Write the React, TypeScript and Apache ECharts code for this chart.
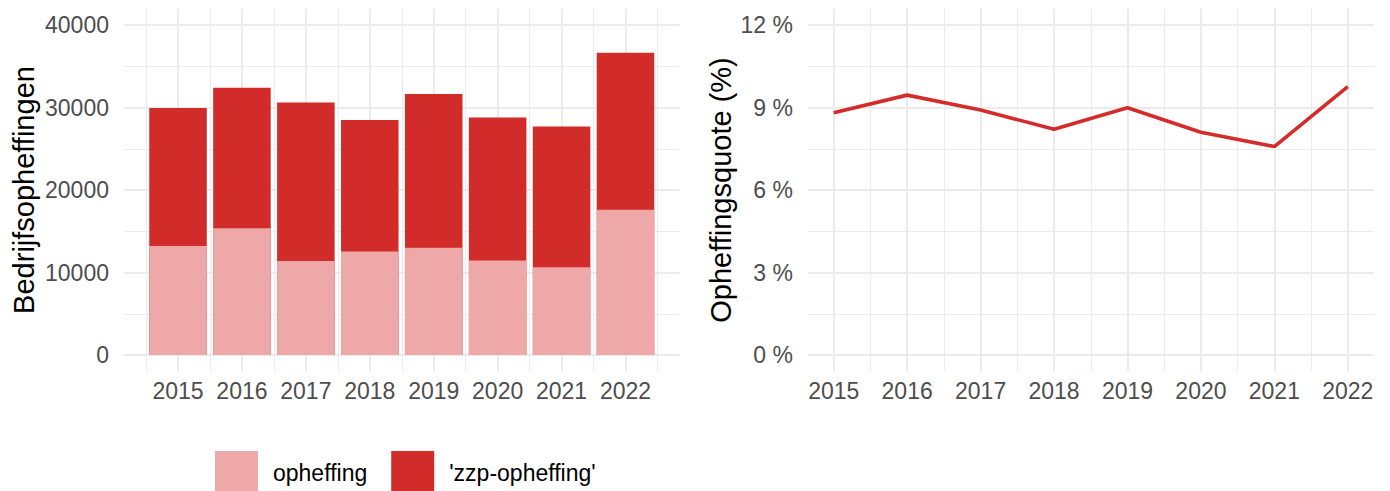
import React, { useEffect, useRef } from "react";
import * as echarts from "echarts";

const years = [2015, 2016, 2017, 2018, 2019, 2020, 2021, 2022];
const opheffing = [13200, 15350, 11400, 12550, 13000, 11450, 10650, 17600];
const zzpOpheffing = [16750, 17050, 19200, 15950, 18650, 17350, 17050, 19050];
const quote = [8.81, 9.45, 8.91, 8.21, 8.99, 8.1, 7.58, 9.76];

const leftYMajor = [0, 10000, 20000, 30000, 40000];
const leftYMinor = [5000, 15000, 25000, 35000];
const leftXMinor = [2014.5, 2015.5, 2016.5, 2017.5, 2018.5, 2019.5, 2020.5, 2021.5, 2022.5];
const rightYMajor = [0, 3, 6, 9, 12];
const rightYMinor = [1.5, 4.5, 7.5, 10.5];
const rightXMinor = [2015.5, 2016.5, 2017.5, 2018.5, 2019.5, 2020.5, 2021.5];

const LIGHT = "#EEA8A8";
const DARK = "#D12B2A";
const LINE = "#D42C2B";
const GRID = "#EBEBEB";
const FONT = "Liberation Sans, Arial, sans-serif";

export default function App() {
  const ref = useRef<HTMLDivElement>(null);
  useEffect(() => {
    if (!ref.current) return;
    const chart = echarts.init(ref.current, null, { renderer: "svg" });
    const tickText = { color: "#4D4D4D", fontSize: 23, fontFamily: FONT };
    const majorLine = { show: true, lineStyle: { color: GRID, width: 2 } };
    const minorLine = { show: true, lineStyle: { color: GRID, width: 1.1 } };
    const hiddenAxisParts = {
      axisLine: { show: false },
      axisLabel: { show: false },
    };
    const grids = [
      { left: 124, top: 8.5, width: 555.5, height: 363 },
      { left: 808, top: 8.5, width: 565.5, height: 363 },
    ];
    const xRanges = [
      [2014.155, 2022.845],
      [2014.65, 2022.35],
    ];
    const yRanges = [
      [-2000, 42000],
      [-0.6, 12.6],
    ];
    const xAxis: any[] = [];
    const yAxis: any[] = [];
    [0, 1].forEach((g) => {
      xAxis.push({
        type: "value",
        gridIndex: g,
        min: xRanges[g][0],
        max: xRanges[g][1],
        axisLine: { show: false },
        axisTick: { show: false, customValues: years },
        axisLabel: { ...tickText, customValues: years, margin: 8, formatter: (v: number) => String(v) },
        splitLine: majorLine,
      });
      xAxis.push({
        type: "value",
        gridIndex: g,
        min: xRanges[g][0],
        max: xRanges[g][1],
        ...hiddenAxisParts,
        axisTick: { show: false, customValues: g === 0 ? leftXMinor : rightXMinor },
        splitLine: minorLine,
      });
      yAxis.push({
        type: "value",
        gridIndex: g,
        min: yRanges[g][0],
        max: yRanges[g][1],
        axisLine: { show: false },
        axisTick: { show: false, customValues: g === 0 ? leftYMajor : rightYMajor },
        axisLabel: {
          ...tickText,
          customValues: g === 0 ? leftYMajor : rightYMajor,
          margin: 15,
          formatter: g === 0 ? (v: number) => String(v) : (v: number) => `${v} %`,
        },
        splitLine: majorLine,
        name: g === 0 ? "Bedrijfsopheffingen" : "Opheffingsquote (%)",
        nameLocation: "middle",
        nameRotate: 90,
        nameGap: g === 0 ? 86 : 73,
        nameTextStyle: { color: "#000000", fontSize: 29, fontFamily: FONT },
      });
      yAxis.push({
        type: "value",
        gridIndex: g,
        min: yRanges[g][0],
        max: yRanges[g][1],
        ...hiddenAxisParts,
        axisTick: { show: false, customValues: g === 0 ? leftYMinor : rightYMinor },
        splitLine: minorLine,
      });
    });

    // stacked total of both parts (the dark segment sits on top of the light one)
    const totals = years.map((_, i) => opheffing[i] + zzpOpheffing[i]);

    chart.setOption({
      animation: false,
      backgroundColor: "#FFFFFF",
      textStyle: { fontFamily: FONT },
      grid: grids,
      xAxis,
      yAxis,
      legend: {
        left: 215,
        top: 451,
        padding: 0,
        itemWidth: 43,
        itemHeight: 44,
        itemGap: 24,
        icon: "rect",
        data: ["opheffing", "'zzp-opheffing'"],
        textStyle: { color: "#000000", fontSize: 23, fontFamily: FONT, padding: [0, 0, 0, 10] },
      },
      series: [
        {
          name: "'zzp-opheffing'",
          type: "bar",
          xAxisIndex: 0,
          yAxisIndex: 0,
          barWidth: "90%",
          barGap: "-100%",
          itemStyle: { color: DARK },
          data: years.map((y, i) => [y, totals[i]]),
        },
        {
          name: "opheffing",
          type: "bar",
          xAxisIndex: 0,
          yAxisIndex: 0,
          barWidth: "90%",
          barGap: "-100%",
          itemStyle: { color: LIGHT },
          data: years.map((y, i) => [y, opheffing[i]]),
        },
        {
          name: "quote",
          type: "line",
          xAxisIndex: 2,
          yAxisIndex: 2,
          showSymbol: false,
          symbol: "none",
          lineStyle: { color: LINE, width: 3.6 },
          itemStyle: { color: LINE },
          data: years.map((y, i) => [y, quote[i]]),
        },
      ],
    });
    return () => chart.dispose();
  }, []);
  return (
    <div
      ref={ref}
      style={{ position: "fixed", left: 0, top: 0, width: 1390, height: 491, background: "#FFFFFF" }}
    />
  );
}
